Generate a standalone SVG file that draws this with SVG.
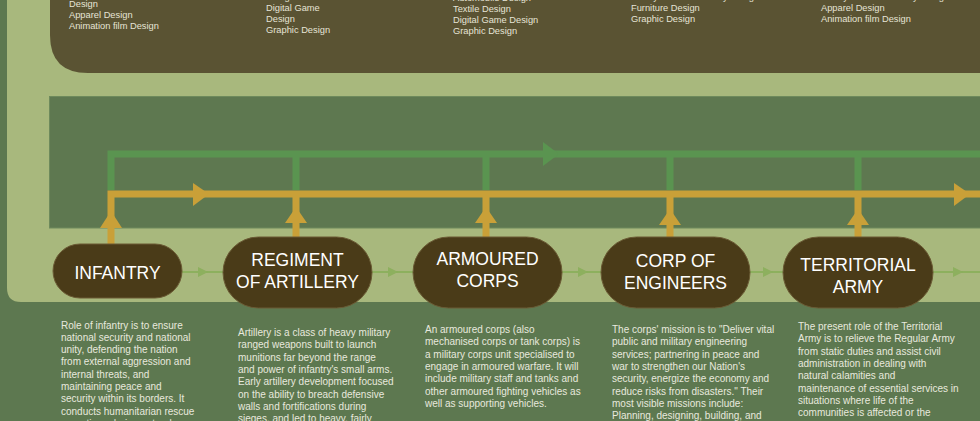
<svg xmlns="http://www.w3.org/2000/svg" width="980" height="421" viewBox="0 0 980 421">
<style>
.top{font-family:"Liberation Sans",Arial,sans-serif;font-size:9.3px;fill:#e6e4d6}
.nt{font-family:"Liberation Sans",Arial,sans-serif;font-size:17.5px;fill:#ffffff;text-anchor:middle}
.desc{font-family:"Liberation Sans",Arial,sans-serif;font-size:10px;fill:#e8e9de}
.node{fill:#4a3b18;stroke:#6a5a34;stroke-width:1}
.gl{fill:none;stroke:#5a9450;stroke-width:7}
.ol{fill:none;stroke:#c9a038;stroke-width:7}
.oa{fill:#c9a038}
.ga{fill:#5a9450}
.nl{fill:none;stroke:#8db05e;stroke-width:2}
.na{fill:#8db05e}
</style>
<rect x="0" y="0" width="980" height="421" fill="#5d7850"/>
<path d="M7 0 H980 V302 H21 Q7 302 7 288 Z" fill="#a8b87d"/>
<path d="M50 0 H980 V73 H88 Q50 73 50 35 Z" fill="#5a5333"/>
<rect x="49.5" y="96.5" width="931" height="131.5" fill="#5e7850" stroke="#6e8a5c" stroke-width="1"/>
<g id="top-lists">
<text class="top" x="69" y="7.3">Design</text>
<text class="top" x="69" y="18">Apparel Design</text>
<text class="top" x="69" y="28.7">Animation film Design</text>
<text class="top" x="266" y="0.3">Design</text>
<text class="top" x="266" y="11">Digital Game</text>
<text class="top" x="266" y="21.8">Design</text>
<text class="top" x="266" y="32.6">Graphic Design</text>
<text class="top" x="453" y="1.3">Automobile Design</text>
<text class="top" x="453" y="12.3">Textile Design</text>
<text class="top" x="453" y="23.3">Digital Game Design</text>
<text class="top" x="453" y="34">Graphic Design</text>
<text class="top" x="631" y="0.3">Lifestyle and accessory Design</text>
<text class="top" x="631" y="11">Furniture Design</text>
<text class="top" x="631" y="21.7">Graphic Design</text>
<text class="top" x="821" y="0">Lifestyle and accessory Design</text>
<text class="top" x="821" y="10.7">Apparel Design</text>
<text class="top" x="821" y="21.7">Animation film Design</text>
</g>
<g id="connectors">
<path class="gl" d="M111 190 V154 H980"/>
<path class="gl" d="M296 154 V190 M486 154 V190 M670 154 V190 M858 154 V190"/>
<polygon class="ga" points="543,142 559,154 543,166"/>
<path class="ol" d="M111 244 V194 H980"/>
<path class="ol" d="M296 237 V194 M486 237 V194 M670 237 V194 M858 237 V194"/>
<polygon class="oa" points="193,183 209,194 193,206"/>
<polygon class="oa" points="954,183 970,194 954,206"/>
<polygon class="oa" points="100,228 122,228 111,211"/>
<polygon class="oa" points="285,223 307,223 296,207"/>
<polygon class="oa" points="475,223 497,223 486,207"/>
<polygon class="oa" points="659,225 681,225 670,209"/>
<polygon class="oa" points="847,225 869,225 858,209"/>
<path class="nl" d="M182 272 H223 M372 272 H413 M562 272 H601 M750 272 H783 M933 272 H980"/>
<polygon class="na" points="198,267 208,272 198,277"/>
<polygon class="na" points="388,267 398,272 388,277"/>
<polygon class="na" points="578,267 588,272 578,277"/>
<polygon class="na" points="763,267 773,272 763,277"/>
<polygon class="na" points="953,267 963,272 953,277"/>
</g>
<g id="infantry">
<rect class="node" x="53" y="244" width="129" height="54" rx="27"/>
<text class="nt" x="117.5" y="279">INFANTRY</text>
<text class="desc" x="61"><tspan x="61" y="328.5">Role of infantry is to ensure</tspan><tspan x="61" y="340.8">national security and national</tspan><tspan x="61" y="353.1">unity, defending the nation</tspan><tspan x="61" y="365.4">from external aggression and</tspan><tspan x="61" y="377.7">internal threats, and</tspan><tspan x="61" y="390">maintaining peace and</tspan><tspan x="61" y="402.3">security within its borders. It</tspan><tspan x="61" y="414.6">conducts humanitarian rescue</tspan><tspan x="61" y="426.9">operations during natural</tspan></text>
</g>
<g id="artillery">
<rect class="node" x="223" y="237" width="149" height="71" rx="35.5"/>
<text class="nt" x="297.5" y="266">REGIMENT</text>
<text class="nt" x="297.5" y="288">OF ARTILLERY</text>
<text class="desc"><tspan x="238" y="336">Artillery is a class of heavy military</tspan><tspan x="238" y="348.3">ranged weapons built to launch</tspan><tspan x="238" y="360.6">munitions far beyond the range</tspan><tspan x="238" y="372.9">and power of infantry's small arms.</tspan><tspan x="238" y="385.2">Early artillery development focused</tspan><tspan x="238" y="397.5">on the ability to breach defensive</tspan><tspan x="238" y="409.8">walls and fortifications during</tspan><tspan x="238" y="422.1">sieges, and led to heavy, fairly</tspan></text>
</g>
<g id="armoured">
<rect class="node" x="413" y="237" width="149" height="71" rx="35.5"/>
<text class="nt" x="487.5" y="265">ARMOURED</text>
<text class="nt" x="487.5" y="287">CORPS</text>
<text class="desc"><tspan x="425" y="333">An armoured corps (also</tspan><tspan x="425" y="345.3">mechanised corps or tank corps) is</tspan><tspan x="425" y="357.6">a military corps unit specialised to</tspan><tspan x="425" y="369.9">engage in armoured warfare. It will</tspan><tspan x="425" y="382.2">include military staff and tanks and</tspan><tspan x="425" y="394.5">other armoured fighting vehicles as</tspan><tspan x="425" y="406.8">well as supporting vehicles.</tspan></text>
</g>
<g id="engineers">
<rect class="node" x="601" y="237" width="149" height="71" rx="35.5"/>
<text class="nt" x="675.5" y="267">CORP OF</text>
<text class="nt" x="675.5" y="289">ENGINEERS</text>
<text class="desc"><tspan x="612" y="333">The corps' mission is to "Deliver vital</tspan><tspan x="612" y="345.3">public and military engineering</tspan><tspan x="612" y="357.6">services; partnering in peace and</tspan><tspan x="612" y="369.9">war to strengthen our Nation's</tspan><tspan x="612" y="382.2">security, energize the economy and</tspan><tspan x="612" y="394.5">reduce risks from disasters." Their</tspan><tspan x="612" y="406.8">most visible missions include:</tspan><tspan x="612" y="419.1">Planning, designing, building, and</tspan></text>
</g>
<g id="territorial">
<rect class="node" x="783" y="237" width="150" height="71" rx="35.5"/>
<text class="nt" x="858" y="271">TERRITORIAL</text>
<text class="nt" x="858" y="293">ARMY</text>
<text class="desc"><tspan x="798" y="330">The present role of the Territorial</tspan><tspan x="798" y="342.3">Army is to relieve the Regular Army</tspan><tspan x="798" y="354.6">from static duties and assist civil</tspan><tspan x="798" y="366.9">administration in dealing with</tspan><tspan x="798" y="379.2">natural calamities and</tspan><tspan x="798" y="391.5">maintenance of essential services in</tspan><tspan x="798" y="403.8">situations where life of the</tspan><tspan x="798" y="416.1">communities is affected or the</tspan></text>
</g>
</svg>
